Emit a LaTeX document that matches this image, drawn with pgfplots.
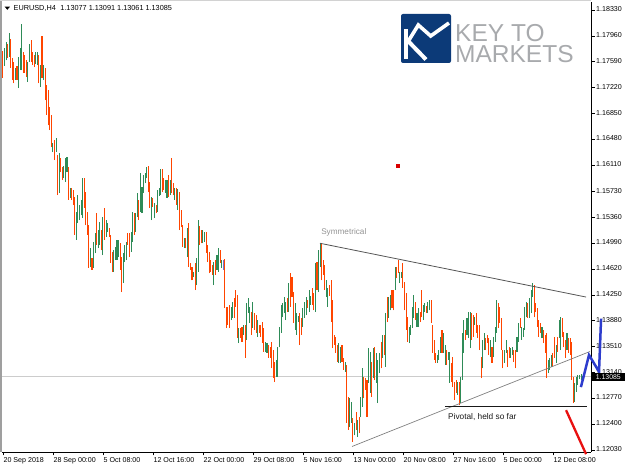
\documentclass[border=0pt]{standalone}
\usepackage{pgfplots}
\pgfplotsset{compat=1.18}
\usepackage{pgfplotstable}
\usepackage{fontspec}
\setmainfont{Liberation Sans}
\definecolor{mgreen}{RGB}{46,139,87}
\definecolor{mred}{RGB}{255,69,0}
\definecolor{mdoji}{RGB}{110,120,210}
\definecolor{logoblue}{RGB}{12,58,120}
\definecolor{logogray}{RGB}{168,170,173}
\definecolor{tline}{RGB}{85,85,85}
\definecolor{bline}{RGB}{45,60,205}
\pgfplotstableread{
x lo hi d
0 1.1736 1.1774 0
1 1.1753 1.1779 1
2 1.1761 1.1787 1
3 1.1764 1.1784 0
4 1.1766 1.1800 1
5 1.1750 1.1791 0
6 1.1733 1.1764 0
7 1.1728 1.1759 0
8 1.1733 1.1750 1
9 1.1733 1.1753 0
10 1.1721 1.1766 1
11 1.1747 1.1779 1
12 1.1747 1.1813 1
13 1.1743 1.1773 0
14 1.1743 1.1769 0
15 1.1737 1.1761 0
16 1.1730 1.1759 1
17 1.1759 1.1784 1
18 1.1759 1.1790 0
19 1.1754 1.1773 0
20 1.1751 1.1769 0
21 1.1756 1.1773 1
22 1.1754 1.1773 1
23 1.1728 1.1769 0
24 1.1723 1.1754 1
25 1.1736 1.1796 0
26 1.1733 1.1754 1
27 1.1704 1.1750 0
28 1.1683 1.1726 0
29 1.1668 1.1718 0
30 1.1661 1.1694 0
31 1.1637 1.1683 0
32 1.1630 1.1643 1
33 1.1618 1.1647 0
34 1.1630 1.1650 1
35 1.1568 1.1625 0
36 1.1571 1.1628 1
37 1.1601 1.1621 0
38 1.1590 1.1608 0
39 1.1592 1.1610 1
40 1.1587 1.1621 1
41 1.1601 1.1623 1
42 1.1561 1.1608 0
43 1.1564 1.1578 1
44 1.1561 1.1578 0
45 1.1554 1.1575 0
46 1.1511 1.1565 0
47 1.1504 1.1544 1
48 1.1528 1.1568 1
49 1.1532 1.1554 1
50 1.1539 1.1561 1
51 1.1535 1.1592 1
52 1.1550 1.1592 0
53 1.1525 1.1572 0
54 1.1511 1.1544 0
55 1.1464 1.1525 0
56 1.1465 1.1492 1
57 1.1461 1.1478 0
58 1.1464 1.1501 1
59 1.1485 1.1514 1
60 1.1497 1.1542 0
61 1.1492 1.1518 1
62 1.1497 1.1529 1
63 1.1489 1.1518 0
64 1.1482 1.1537 1
65 1.1504 1.1550 0
66 1.1508 1.1532 1
67 1.1515 1.1528 1
68 1.1508 1.1521 0
69 1.1471 1.1511 0
70 1.1458 1.1487 0
71 1.1458 1.1489 1
72 1.1475 1.1494 1
73 1.1475 1.1504 1
74 1.1479 1.1504 1
75 1.1461 1.1499 0
76 1.1429 1.1479 0
77 1.1442 1.1485 1
78 1.1472 1.1497 1
79 1.1475 1.1501 1
80 1.1497 1.1514 0
81 1.1479 1.1514 0
82 1.1487 1.1515 1
83 1.1501 1.1544 1
84 1.1511 1.1542 0
85 1.1515 1.1542 1
86 1.1537 1.1571 1
87 1.1532 1.1561 0
88 1.1544 1.1600 1
89 1.1542 1.1580 1
90 1.1571 1.1597 1
91 1.1585 1.1600 1
92 1.1592 1.1608 1
93 1.1572 1.1610 0
94 1.1550 1.1587 0
95 1.1532 1.1565 1
96 1.1551 1.1564 0
97 1.1535 1.1557 1
98 1.1542 1.1554 0
99 1.1544 1.1575 1
100 1.1567 1.1578 1
101 1.1568 1.1605 1
102 1.1572 1.1605 0
103 1.1575 1.1592 0
104 1.1571 1.1590 1
105 1.1564 1.1590 1
106 1.1565 1.1597 0
107 1.1568 1.1590 1
108 1.1571 1.1621 0
109 1.1568 1.1585 0
110 1.1561 1.1578 1
111 1.1554 1.1578 0
112 1.1547 1.1577 1
113 1.1518 1.1572 0
114 1.1522 1.1547 0
115 1.1494 1.1525 0
116 1.1492 1.1507 1
117 1.1492 1.1507 0
118 1.1479 1.1521 1
119 1.1465 1.1528 0
120 1.1461 1.1471 0
121 1.1446 1.1465 0
122 1.1451 1.1458 1
123 1.1432 1.1471 0
124 1.1439 1.1478 1
125 1.1458 1.1532 1
126 1.1497 1.1524 0
127 1.1499 1.1518 0
128 1.1499 1.1518 1
129 1.1501 1.1515 1
130 1.1485 1.1515 0
131 1.1472 1.1497 0
132 1.1456 1.1487 0
133 1.1458 1.1475 0
134 1.1454 1.1468 0
135 1.1439 1.1472 1
136 1.1454 1.1475 0
137 1.1461 1.1482 1
138 1.1458 1.1492 1
139 1.1471 1.1489 0
140 1.1464 1.1475 1
141 1.1461 1.1475 2
142 1.1406 1.1476 0
143 1.1378 1.1408 0
144 1.1382 1.1408 0
145 1.1378 1.1411 0
146 1.1389 1.1408 1
147 1.1392 1.1415 1
148 1.1392 1.1421 0
149 1.1408 1.1432 0
150 1.1363 1.1425 0
151 1.1356 1.1378 1
152 1.1363 1.1378 0
153 1.1358 1.1379 0
154 1.1368 1.1382 1
155 1.1335 1.1382 0
156 1.1361 1.1413 1
157 1.1399 1.1421 1
158 1.1385 1.1408 1
159 1.1368 1.1401 0
160 1.1378 1.1415 1
161 1.1375 1.1399 0
162 1.1371 1.1396 0
163 1.1365 1.1389 1
164 1.1371 1.1382 0
165 1.1365 1.1382 0
166 1.1356 1.1386 0
167 1.1343 1.1378 0
168 1.1343 1.1358 1
169 1.1342 1.1356 1
170 1.1335 1.1353 0
171 1.1335 1.1350 0
172 1.1320 1.1358 0
173 1.1306 1.1346 0
174 1.1300 1.1329 0
175 1.1308 1.1332 1
176 1.1308 1.1350 1
177 1.1350 1.1379 1
178 1.1371 1.1411 1
179 1.1393 1.1413 1
180 1.1399 1.1422 1
181 1.1389 1.1415 1
182 1.1401 1.1421 0
183 1.1401 1.1442 1
184 1.1408 1.1456 0
185 1.1422 1.1451 0
186 1.1385 1.1429 0
187 1.1375 1.1413 1
188 1.1368 1.1399 1
189 1.1386 1.1395 1
190 1.1353 1.1399 0
191 1.1368 1.1392 0
192 1.1379 1.1406 1
193 1.1392 1.1415 1
194 1.1396 1.1422 1
195 1.1406 1.1418 0
196 1.1401 1.1432 1
197 1.1411 1.1424 1
198 1.1411 1.1435 0
199 1.1403 1.1428 0
200 1.1401 1.1471 1
201 1.1432 1.1472 0
202 1.1429 1.1489 1
203 1.1465 1.1499 1
204 1.1446 1.1499 0
205 1.1454 1.1475 0
206 1.1432 1.1468 0
207 1.1422 1.1446 1
208 1.1408 1.1435 1
209 1.1424 1.1439 0
210 1.1386 1.1446 0
211 1.1349 1.1418 0
212 1.1353 1.1368 0
213 1.1342 1.1365 0
214 1.1329 1.1353 0
215 1.1328 1.1356 1
216 1.1328 1.1350 1
217 1.1329 1.1353 0
218 1.1318 1.1335 0
219 1.1315 1.1329 1
220 1.1242 1.1325 0
221 1.1232 1.1279 0
222 1.1236 1.1277 1
223 1.1242 1.1272 1
224 1.1215 1.1249 0
225 1.1224 1.1242 1
226 1.1232 1.1257 0
227 1.1222 1.1246 1
228 1.1227 1.1250 0
229 1.1250 1.1279 1
230 1.1265 1.1320 1
231 1.1277 1.1308 0
232 1.1289 1.1306 0
233 1.1250 1.1303 0
234 1.1299 1.1349 1
235 1.1285 1.1343 1
236 1.1279 1.1329 0
237 1.1306 1.1349 1
238 1.1303 1.1350 0
239 1.1299 1.1342 1
240 1.1270 1.1332 1
241 1.1313 1.1342 1
242 1.1320 1.1358 0
243 1.1335 1.1368 1
244 1.1339 1.1368 0
245 1.1322 1.1399 1
246 1.1386 1.1422 0
247 1.1392 1.1422 1
248 1.1403 1.1425 1
249 1.1406 1.1432 0
250 1.1403 1.1432 0
251 1.1432 1.1465 1
252 1.1449 1.1465 0
253 1.1456 1.1475 0
254 1.1442 1.1458 1
255 1.1449 1.1458 1
256 1.1435 1.1471 0
257 1.1403 1.1444 0
258 1.1375 1.1428 0
259 1.1358 1.1393 0
260 1.1356 1.1379 1
261 1.1368 1.1382 1
262 1.1378 1.1408 1
263 1.1392 1.1425 1
264 1.1389 1.1415 0
265 1.1379 1.1399 1
266 1.1379 1.1406 1
267 1.1386 1.1401 0
268 1.1393 1.1432 0
269 1.1389 1.1411 1
270 1.1401 1.1413 1
271 1.1399 1.1409 0
272 1.1399 1.1415 1
273 1.1403 1.1418 1
274 1.1385 1.1418 0
275 1.1342 1.1382 0
276 1.1332 1.1361 0
277 1.1328 1.1342 0
278 1.1328 1.1339 1
279 1.1332 1.1346 1
280 1.1342 1.1365 1
281 1.1342 1.1375 0
282 1.1342 1.1371 1
283 1.1325 1.1353 1
284 1.1325 1.1346 0
285 1.1332 1.1343 1
286 1.1299 1.1343 1
287 1.1300 1.1328 0
288 1.1293 1.1336 0
289 1.1275 1.1300 0
290 1.1285 1.1303 0
291 1.1282 1.1300 1
292 1.1267 1.1300 0
293 1.1270 1.1308 1
294 1.1303 1.1371 1
295 1.1342 1.1389 1
296 1.1361 1.1375 0
297 1.1368 1.1392 1
298 1.1363 1.1401 1
299 1.1349 1.1401 1
300 1.1361 1.1399 0
301 1.1365 1.1396 0
302 1.1382 1.1393 1
303 1.1371 1.1399 0
304 1.1363 1.1382 0
305 1.1346 1.1382 0
306 1.1306 1.1336 0
307 1.1320 1.1361 1
308 1.1346 1.1371 1
309 1.1346 1.1363 0
310 1.1356 1.1368 0
311 1.1339 1.1363 0
312 1.1336 1.1361 1
313 1.1328 1.1350 0
314 1.1336 1.1365 1
315 1.1358 1.1379 1
316 1.1371 1.1418 1
317 1.1378 1.1413 0
318 1.1385 1.1408 0
319 1.1346 1.1392 0
320 1.1320 1.1346 0
321 1.1328 1.1346 1
322 1.1342 1.1361 1
323 1.1322 1.1346 0
324 1.1335 1.1350 0
325 1.1335 1.1349 1
326 1.1339 1.1350 1
327 1.1329 1.1346 0
328 1.1320 1.1346 0
329 1.1343 1.1365 1
330 1.1358 1.1385 1
331 1.1378 1.1392 0
332 1.1361 1.1379 1
333 1.1365 1.1378 1
334 1.1375 1.1408 1
335 1.1393 1.1415 1
336 1.1392 1.1413 0
337 1.1392 1.1421 1
338 1.1399 1.1432 1
339 1.1422 1.1442 1
340 1.1393 1.1439 0
341 1.1401 1.1413 0
342 1.1379 1.1406 0
343 1.1365 1.1389 0
344 1.1371 1.1385 0
345 1.1363 1.1379 1
346 1.1356 1.1375 0
347 1.1342 1.1368 0
348 1.1306 1.1371 0
349 1.1313 1.1332 1
350 1.1318 1.1335 1
351 1.1322 1.1339 1
352 1.1322 1.1342 0
353 1.1335 1.1365 0
354 1.1328 1.1353 1
355 1.1343 1.1365 0
356 1.1363 1.1389 1
357 1.1346 1.1393 1
358 1.1365 1.1392 0
359 1.1350 1.1372 0
360 1.1335 1.1361 0
361 1.1346 1.1371 1
362 1.1342 1.1363 0
363 1.1339 1.1363 0
364 1.1303 1.1358 0
365 1.1270 1.1308 0
366 1.1272 1.1299 1
367 1.1286 1.1308 1
368 1.1296 1.1310 1
369 1.1305 1.1310 1
370 1.1303 1.1312 1
371 1.13061 1.13091 1
}\bars
\begin{document}
\begin{tikzpicture}
\begin{axis}[
  at={(2pt,17pt)}, anchor=south west,
  scale only axis, width=589pt, height=450pt,
  xmin=-0.6, xmax=376.36, ymin=1.12001, ymax=1.18445,
  axis x line*=bottom, axis y line*=right,
  axis line style={black, line width=0.8pt},
  tick align=outside, major tick length=3.5pt,
  tick style={black, line width=0.6pt},
  xtick={0,32,64,96,128,160,192,224,256,288,320,352},
  xticklabels={20 Sep 2018, 28 Sep 00:00, 5 Oct 08:00, 12 Oct 16:00, 22 Oct 00:00, 29 Oct 08:00, 5 Nov 16:00, 13 Nov 00:00, 20 Nov 08:00, 27 Nov 16:00, 5 Dec 00:00, 12 Dec 08:00},
  ytick={1.1203,1.124,1.1277,1.1314,1.1351,1.1388,1.1425,1.1462,1.1499,1.1536,1.1573,1.1611,1.1648,1.1685,1.1722,1.1759,1.1796,1.1833},
  yticklabels={1.12030,1.12400,1.12770,1.13140,1.13510,1.13880,1.14250,1.14620,1.14990,1.15360,1.15730,1.16110,1.16480,1.16850,1.17220,1.17590,1.17960,1.18330},
  /pgf/number format/assume math mode=true,
  tick label style={font=\fontsize{7.1}{8}\selectfont, text=black},
  xticklabel style={anchor=north west, inner sep=0pt, xshift=0.5pt, yshift=-2pt},
  yticklabel style={anchor=west, inner sep=0pt, xshift=1.5pt, yshift=0.8pt},
  clip=false,
  set layers,
]
\addplot[color=gray!40, line width=0.8pt] coordinates {(-0.6,1.13085) (376.36,1.13085)};
\addplot[draw=none, mark=none, restrict expr to domain={\thisrow{d}}{0:0},
  error bars/.cd, y dir=plus, y explicit, error mark=none,
  error bar style={draw=mred, line width=1.1pt}]
  table[x=x, y=lo, y error expr=\thisrow{hi}-\thisrow{lo}] {\bars};
\addplot[draw=none, mark=none, restrict expr to domain={\thisrow{d}}{1:1},
  error bars/.cd, y dir=plus, y explicit, error mark=none,
  error bar style={draw=mgreen, line width=1.1pt}]
  table[x=x, y=lo, y error expr=\thisrow{hi}-\thisrow{lo}] {\bars};
\addplot[draw=none, mark=none, restrict expr to domain={\thisrow{d}}{2:2},
  error bars/.cd, y dir=plus, y explicit, error mark=none,
  error bar style={draw=mdoji, line width=1.5pt}]
  table[x=x, y=lo, y error expr=\thisrow{hi}-\thisrow{lo}] {\bars};
\addplot[color=tline, line width=0.8pt] coordinates {(202.9,1.1499) (373.2,1.1422)};
\addplot[color=gray, line width=0.7pt] coordinates {(223.4,1.1208) (375.7,1.1344)};
\addplot[color=black!90, line width=1.2pt] coordinates {(282.9,1.1265) (373.8,1.1265)};
\addplot[color={rgb,255:red,232;green,16;blue,16}, line width=2.3pt] coordinates {(360.4,1.1260) (373.2,1.1197)};
\addplot[color=bline, line width=2.5pt] coordinates {(369.9,1.1293) (375.1,1.1339) (381.5,1.1315) (382.8,1.1391)};
\addplot[only marks, mark=square*, mark size=1.3pt, color=red!85!black] coordinates {(252.8,1.1610)};
\node[anchor=west, inner sep=0pt, text=gray!85, font=\fontsize{8.2}{9}\selectfont] at (axis cs:203.6,1.1514) {Symmetrical};
\node[anchor=west, inner sep=0pt, text=black!90, font=\fontsize{8.3}{9}\selectfont] at (axis cs:284.8,1.1250) {Pivotal, held so far};
\end{axis}
\begin{scope}[x=1pt,y=1pt]
\draw[gray!75, line width=2pt] (1,17) -- (1,469);
\draw[gray!35, line width=0.8pt] (0,468.4) -- (591,468.4);
\fill[black] (4.7,462.3) -- (10,462.3) -- (7.35,459.2) -- cycle;
\node[anchor=west, inner sep=0pt, font=\fontsize{7.3}{8}\selectfont] at (13.5,460.7) {EURUSD,H4\hspace{4.5pt}1.13077 1.13091 1.13061 1.13085};
\fill[black] (592,88) rectangle (625,96);
\node[inner sep=0pt, text=white, font=\fontsize{6.9}{8}\selectfont] at (608.3,92) {1.13085};
\fill[logoblue, rounded corners=2pt] (401,406) rectangle (451,455);
\draw[white, line width=4pt] (406,410) -- (406,440);
\draw[white, line width=4pt] (409,427) -- (426,409.5);
\draw[white, line width=3.6pt, line join=miter] (407.5,426.5) -- (418.3,444) -- (430.7,433) -- (449,446);
\node[anchor=base west, inner sep=0pt, text height=17.5pt, text depth=0pt, text=logogray, font=\fontsize{24.5}{26}\selectfont] at (455,427) {KEY TO};
\node[anchor=base west, inner sep=0pt, text height=17.5pt, text depth=0pt, text=logogray, font=\fontsize{24.5}{26}\selectfont] at (455,406) {MARKETS};
\end{scope}
\pgfresetboundingbox
\path[use as bounding box] (0,0) rectangle (625pt,469pt);
\end{tikzpicture}
\end{document}
